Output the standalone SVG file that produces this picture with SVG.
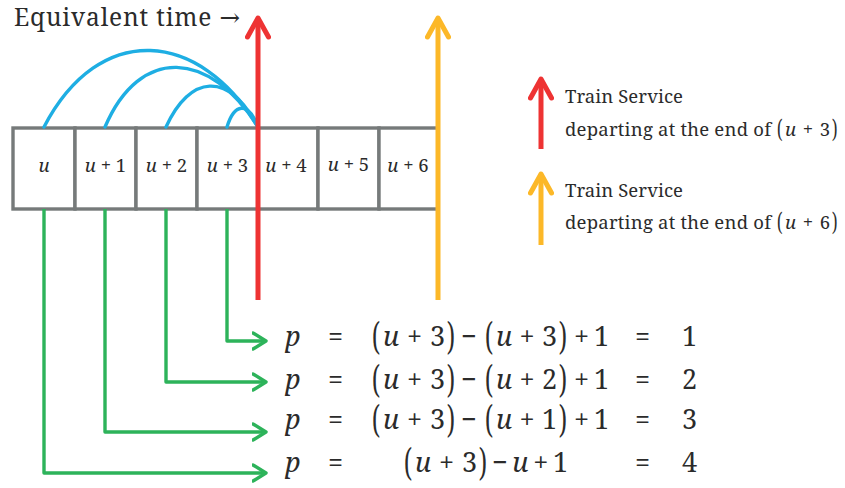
<svg xmlns="http://www.w3.org/2000/svg" width="845" height="488" viewBox="0 0 845 488">
<defs>
<style>
text{fill:#2b2b2b;font-family:"Noto Serif","DejaVu Serif",serif}
.i{font-style:italic}
.cell rect{fill:#fff;stroke:#767a7a;stroke-width:3.4}
.lbl{font-size:18.5px;text-anchor:middle}
.eq{font-size:27px}
.lg{font-size:18.5px}
.arc{fill:none;stroke:#1eaee3;stroke-width:3.4;stroke-linecap:round}
.gr{fill:none;stroke:#2db35a;stroke-width:3.4;stroke-linejoin:round}
.red{stroke:#ee3333;stroke-width:5;fill:none}
.yel{stroke:#fcb828;stroke-width:5;fill:none}
</style>
<marker id="mg" viewBox="0 0 16 20" refX="14" refY="10" markerWidth="16" markerHeight="20" markerUnits="userSpaceOnUse" orient="auto">
<path d="M1,2 L14,10 L1,18" fill="none" stroke="#2db35a" stroke-width="3.4" stroke-linecap="round" stroke-linejoin="round"/>
</marker>
<marker id="mr" viewBox="0 0 26 26" refX="23" refY="13" markerWidth="26" markerHeight="26" markerUnits="userSpaceOnUse" orient="auto">
<path d="M4,2.5 L23,13 L4,23.5" fill="none" stroke="#ee3333" stroke-width="5" stroke-linecap="round" stroke-linejoin="round"/>
</marker>
<marker id="my" viewBox="0 0 26 26" refX="23" refY="13" markerWidth="26" markerHeight="26" markerUnits="userSpaceOnUse" orient="auto">
<path d="M4,2.5 L23,13 L4,23.5" fill="none" stroke="#fcb828" stroke-width="5" stroke-linecap="round" stroke-linejoin="round"/>
</marker>
</defs>
<rect width="845" height="488" fill="#fff"/>

<text id="title" x="14" y="26" font-size="24.5" textLength="226">Equivalent time →</text>

<g id="cell-u" class="cell"><rect x="13" y="128" width="62" height="81"/><text class="lbl i" x="44" y="172">u</text></g>
<g id="cell-u1" class="cell"><rect x="75" y="128" width="61" height="81"/><text class="lbl" x="105.5" y="172"><tspan class="i">u</tspan> + 1</text></g>
<g id="cell-u2" class="cell"><rect x="136" y="128" width="61" height="81"/><text class="lbl" x="166.5" y="172"><tspan class="i">u</tspan> + 2</text></g>
<g id="cell-u3" class="cell"><rect x="197" y="128" width="61" height="81"/><text class="lbl" x="227.5" y="172"><tspan class="i">u</tspan> + 3</text></g>
<g id="cell-u4" class="cell"><rect x="258" y="128" width="60" height="81"/><text class="lbl" x="286" y="172"><tspan class="i">u</tspan> + 4</text></g>
<g id="cell-u5" class="cell"><rect x="318" y="128" width="61" height="81"/><text class="lbl" x="348.5" y="171"><tspan class="i">u</tspan> + 5</text></g>
<g id="cell-u6" class="cell"><rect x="379" y="128" width="59" height="81"/><text class="lbl" x="408" y="172"><tspan class="i">u</tspan> + 6</text></g>

<g id="connectors">
<path class="arc" d="M44,127 C100,20 200,30 258,127"/>
<path class="arc" d="M105,127 C140,45 210,50 258,127"/>
<path class="arc" d="M166,127 C190,75 228,70 258,127"/>
<path class="arc" d="M227,127 C234,104 248,100 258,127"/>
<path class="gr" d="M227,209 V341 H266" marker-end="url(#mg)"/>
<path class="gr" d="M166,209 V382 H266" marker-end="url(#mg)"/>
<path class="gr" d="M105,209 V432 H266" marker-end="url(#mg)"/>
<path class="gr" d="M44,209 V473 H266" marker-end="url(#mg)"/>
</g>

<g id="train-u3"><path class="red" d="M258,300 V18" marker-end="url(#mr)"/></g>
<g id="train-u6"><path class="yel" d="M438,300 V18" marker-end="url(#my)"/></g>

<g id="legend-u3">
<path class="red" d="M541,149 V79" marker-end="url(#mr)"/>
<text class="lg" x="565" y="103" textLength="118">Train Service</text>
<text class="lg" x="565" y="136" textLength="206">departing at the end of</text>
<text class="lg" transform="translate(777,138) scale(0.85,1.4)">(</text>
<text class="lg" x="785" y="136" textLength="45"><tspan class="i">u</tspan> + 3</text>
<text class="lg" transform="translate(832,138) scale(0.85,1.4)">)</text>
</g>
<g id="legend-u6">
<path class="yel" d="M541,245 V174" marker-end="url(#my)"/>
<text class="lg" x="565" y="197" textLength="118">Train Service</text>
<text class="lg" x="565" y="229" textLength="206">departing at the end of</text>
<text class="lg" transform="translate(777,231) scale(0.85,1.4)">(</text>
<text class="lg" x="785" y="229" textLength="45"><tspan class="i">u</tspan> + 6</text>
<text class="lg" transform="translate(832,231) scale(0.85,1.4)">)</text>
</g>

<g id="eq1" class="eq">
<text class="eq i" x="285" y="346">p</text>
<text class="eq" x="328" y="346">=</text>
<text class="eq" transform="translate(372,350) scale(0.85,1.4)">(</text>
<text class="eq" x="383" y="346" textLength="62"><tspan class="i">u</tspan> + 3</text>
<text class="eq" transform="translate(447,350) scale(0.85,1.4)">)</text>
<text class="eq" x="461" y="346">−</text>
<text class="eq" transform="translate(485,350) scale(0.85,1.4)">(</text>
<text class="eq" x="496" y="346" textLength="61"><tspan class="i">u</tspan> + 3</text>
<text class="eq" transform="translate(559,350) scale(0.85,1.4)">)</text>
<text class="eq" x="574" y="346" textLength="35">+ 1</text>
<text class="eq" x="635" y="346">=</text>
<text class="eq" x="682" y="346">1</text>
</g>
<g id="eq2" class="eq">
<text class="eq i" x="285" y="389">p</text>
<text class="eq" x="328" y="389">=</text>
<text class="eq" transform="translate(372,393) scale(0.85,1.4)">(</text>
<text class="eq" x="383" y="389" textLength="62"><tspan class="i">u</tspan> + 3</text>
<text class="eq" transform="translate(447,393) scale(0.85,1.4)">)</text>
<text class="eq" x="461" y="389">−</text>
<text class="eq" transform="translate(485,393) scale(0.85,1.4)">(</text>
<text class="eq" x="496" y="389" textLength="61"><tspan class="i">u</tspan> + 2</text>
<text class="eq" transform="translate(559,393) scale(0.85,1.4)">)</text>
<text class="eq" x="574" y="389" textLength="35">+ 1</text>
<text class="eq" x="635" y="389">=</text>
<text class="eq" x="682" y="389">2</text>
</g>
<g id="eq3" class="eq">
<text class="eq i" x="285" y="429">p</text>
<text class="eq" x="328" y="429">=</text>
<text class="eq" transform="translate(372,433) scale(0.85,1.4)">(</text>
<text class="eq" x="383" y="429" textLength="62"><tspan class="i">u</tspan> + 3</text>
<text class="eq" transform="translate(447,433) scale(0.85,1.4)">)</text>
<text class="eq" x="461" y="429">−</text>
<text class="eq" transform="translate(485,433) scale(0.85,1.4)">(</text>
<text class="eq" x="496" y="429" textLength="61"><tspan class="i">u</tspan> + 1</text>
<text class="eq" transform="translate(559,433) scale(0.85,1.4)">)</text>
<text class="eq" x="574" y="429" textLength="35">+ 1</text>
<text class="eq" x="635" y="429">=</text>
<text class="eq" x="682" y="429">3</text>
</g>
<g id="eq4" class="eq">
<text class="eq i" x="285" y="472">p</text>
<text class="eq" x="328" y="472">=</text>
<text class="eq" transform="translate(404,476) scale(0.85,1.4)">(</text>
<text class="eq" x="415" y="472" textLength="62"><tspan class="i">u</tspan> + 3</text>
<text class="eq" transform="translate(479,476) scale(0.85,1.4)">)</text>
<text class="eq" x="492" y="472" textLength="76">− <tspan class="i">u</tspan> + 1</text>
<text class="eq" x="635" y="472">=</text>
<text class="eq" x="682" y="472">4</text>
</g>
</svg>
